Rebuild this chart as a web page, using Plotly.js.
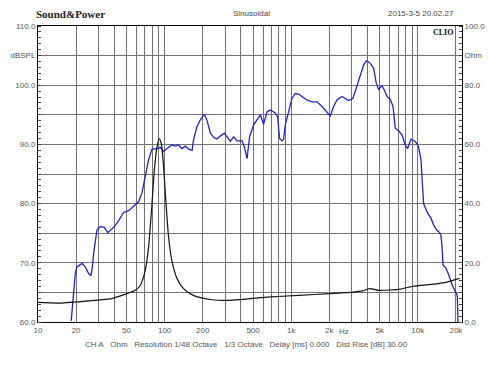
<!DOCTYPE html>
<html>
<head>
<meta charset="utf-8">
<script src="https://cdn.plot.ly/plotly-3.0.1.min.js"></script>
<style>html,body{margin:0;padding:0;background:#fff;}#chart{width:500px;height:375px;}</style>
</head>
<body>
<div id="chart"></div>
<script>
// SPL response (blue, left axis dBSPL)
const splFreq = [18.3, 19.7, 20.3, 22.3, 23.6, 25.1, 26.2, 26.9, 27.5, 29.2, 31.0, 33.4, 35.5, 38.4, 42.1, 47.5, 52.0, 56.9, 62.3, 66.3, 70.4, 74.7, 79.5, 87.1, 92.5, 98.2, 104.5, 114, 121, 129, 137, 146, 155, 165, 169, 180, 191, 206, 216, 230, 244, 259, 275, 296, 311, 330, 351, 373, 409, 426, 448, 469, 505, 543, 570, 605, 644, 684, 749, 781, 810, 846, 871, 898, 954, 1015, 1078, 1144, 1217, 1333, 1460, 1599, 1751, 1918, 2036, 2162, 2300, 2519, 2676, 2841, 3078, 3310, 3514, 3731, 3919, 4163, 4477, 4701, 4902, 5215, 5438, 5711, 6064, 6371, 6644, 7053, 7503, 7966, 8309, 8837, 9557, 10146, 10600, 11110, 11820, 12720, 13330, 14180, 14870, 15250, 15550, 15820, 16600, 17600, 18700, 20000, 20500, 20780];
const splDb = [60.2, 68.2, 69.3, 69.9, 69.3, 68.2, 67.9, 69.3, 71.6, 75.5, 76.1, 76.0, 75.1, 75.7, 76.7, 78.5, 78.8, 79.6, 80.3, 81.8, 84.8, 87.4, 89.2, 89.3, 89.5, 88.8, 89.3, 89.9, 89.7, 89.9, 89.3, 89.7, 89.2, 89.0, 90.7, 93.0, 94.1, 95.1, 94.1, 91.9, 91.2, 90.9, 91.4, 91.9, 91.3, 90.5, 91.3, 90.6, 90.6, 89.6, 87.6, 91.3, 93.3, 94.4, 95.0, 93.4, 95.5, 95.8, 95.3, 94.7, 91.0, 90.6, 90.9, 93.3, 95.3, 97.8, 98.6, 98.5, 98.1, 97.5, 97.2, 97.2, 96.4, 95.4, 94.8, 96.4, 97.5, 98.1, 97.8, 97.4, 97.8, 99.8, 101.7, 103.4, 104.1, 103.8, 102.9, 100.3, 99.3, 99.9, 99.2, 98.1, 97.6, 96.4, 92.7, 92.3, 91.6, 89.9, 89.3, 90.9, 90.5, 89.6, 87.4, 80.0, 78.6, 77.5, 76.4, 75.5, 75.1, 74.6, 72.7, 69.6, 69.2, 67.9, 66.2, 64.8, 64.5, 60.0];

// Impedance (black, right axis Ohm)
const impFreq = [10, 15, 27.5, 37.2, 50.5, 58.7, 64.3, 70.4, 74.7, 79.5, 82.9, 87.1, 90.8, 94.2, 98.2, 102.6, 107.5, 114, 125.3, 141, 169, 230, 311, 644, 1144, 2036, 3111, 3645, 4163, 4902, 7278, 9268, 12720, 17010, 20400, 21500];
const impOhm = [6.6, 6.4, 7.3, 7.8, 9.6, 10.7, 12.4, 17.5, 25.3, 40.0, 51.2, 59.1, 61.9, 60.3, 52.4, 40.0, 28.7, 20.8, 14.7, 11.3, 9.0, 7.6, 7.3, 8.4, 9.0, 9.6, 10.1, 10.5, 11.3, 10.7, 11.1, 12.1, 12.7, 13.5, 14.5, 14.7];

// Axis ticks
const xTickVals = [10, 20, 30, 40, 50, 60, 70, 80, 90, 100, 200, 300, 400, 500, 600, 700, 800, 900, 1000, 2000, 3000, 4000, 5000, 6000, 7000, 8000, 9000, 10000, 20000];
const xTickText = ['10', '20', '', '', '50', '', '', '', '', '100', '200', '', '', '500', '', '', '', '', '1k', '2k', '', '', '5k', '', '', '', '', '10k', '20k'];
const yTickVals = [60, 65, 70, 75, 80, 85, 90, 95, 100, 105, 110];
const yTickText = ['60.0', '', '70.0', '', '80.0', '', '90.0', '', '100.0', 'dBSPL', '110.0'];
const y2TickVals = [0, 20, 40, 60, 80, 90, 100];
const y2TickText = ['0.0', '20.0', '40.0', '60.0', '80.0', 'Ohm', '100.0'];

const L = 38, R = 38, T = 26, B = 53, W = 500, H = 375;
const pw = W - L - R, ph = H - T - B;
const px = v => (v - L) / pw;
const py = v => (H - B - v) / ph;

const tickFont = {family: 'Liberation Sans, Arial, sans-serif', size: 8, color: '#555'};

const traces = [
  {
    x: splFreq, y: splDb, type: 'scatter', mode: 'lines',
    line: {color: '#2323c4', width: 1.3},
    hoverinfo: 'skip', showlegend: false
  },
  {
    x: impFreq, y: impOhm, type: 'scatter', mode: 'lines', yaxis: 'y2',
    line: {color: '#111', width: 1.2, shape: 'spline', smoothing: 0.6},
    hoverinfo: 'skip', showlegend: false
  }
];

const layout = {
  width: W, height: H,
  margin: {l: L, r: R, t: T, b: B, pad: 0},
  paper_bgcolor: '#fff', plot_bgcolor: '#fff',
  showlegend: false,
  xaxis: {
    type: 'log', range: [1, 1 + pw / 126.6],
    tickmode: 'array', tickvals: xTickVals, ticktext: xTickText,
    showgrid: true, gridcolor: '#707070', gridwidth: 1,
    showline: true, linecolor: '#000', linewidth: 1, mirror: true,
    ticks: '', tickfont: tickFont, zeroline: false
  },
  yaxis: {
    range: [60, 110],
    tickmode: 'array', tickvals: yTickVals, ticktext: yTickText,
    showgrid: true, gridcolor: '#707070', gridwidth: 1,
    showline: true, linecolor: '#000', linewidth: 1, mirror: true,
    ticks: '', tickfont: tickFont, zeroline: false,
    minor: {dtick: 1, ticks: 'inside', ticklen: 3, tickcolor: '#444', tickwidth: 1, showgrid: false}
  },
  yaxis2: {
    range: [0, 100], overlaying: 'y', side: 'right',
    tickmode: 'array', tickvals: y2TickVals, ticktext: y2TickText,
    showgrid: false, showline: true, linecolor: '#000', linewidth: 1,
    ticks: '', tickfont: tickFont, zeroline: false,
    minor: {dtick: 2, ticks: 'inside', ticklen: 3, tickcolor: '#444', tickwidth: 1, showgrid: false}
  },
  annotations: [
    {text: 'Sound&amp;Power', xref: 'paper', yref: 'paper', x: px(34), y: py(14), xanchor: 'left', yanchor: 'middle', showarrow: false,
     font: {family: 'Liberation Serif, Times New Roman, serif', size: 11, color: '#222', weight: 'bold'}},
    {text: 'Sinusoidal', xref: 'paper', yref: 'paper', x: px(251), y: py(14), xanchor: 'center', yanchor: 'middle', showarrow: false,
     font: {family: 'Liberation Sans, Arial, sans-serif', size: 8, color: '#444'}},
    {text: '2015-3-5 20.02.27', xref: 'paper', yref: 'paper', x: px(456), y: py(14), xanchor: 'right', yanchor: 'middle', showarrow: false,
     font: {family: 'Liberation Sans, Arial, sans-serif', size: 8, color: '#444'}},
    {text: 'CLIO', xref: 'paper', yref: 'paper', x: px(443), y: py(32.5), xanchor: 'center', yanchor: 'middle', showarrow: false,
     bgcolor: '#fff', borderpad: 1,
     font: {family: 'Liberation Serif, Times New Roman, serif', size: 8, color: '#111', weight: 'bold'}},
    {text: 'Hz', xref: 'paper', yref: 'paper', x: px(344), y: py(331), xanchor: 'center', yanchor: 'middle', showarrow: false,
     font: tickFont},
    {text: 'CH A&nbsp;&nbsp; Ohm&nbsp;&nbsp; Resolution 1/48 Octave&nbsp;&nbsp; 1/3 Octave&nbsp;&nbsp; Delay [ms] 0.000&nbsp;&nbsp; Dist Rise [dB] 30.00',
     xref: 'paper', yref: 'paper', x: px(245.5), y: py(344), xanchor: 'center', yanchor: 'middle', showarrow: false,
     font: tickFont}
  ]
};

Plotly.newPlot('chart', traces, layout, {staticPlot: true, displayModeBar: false});
</script>
</body>
</html>
